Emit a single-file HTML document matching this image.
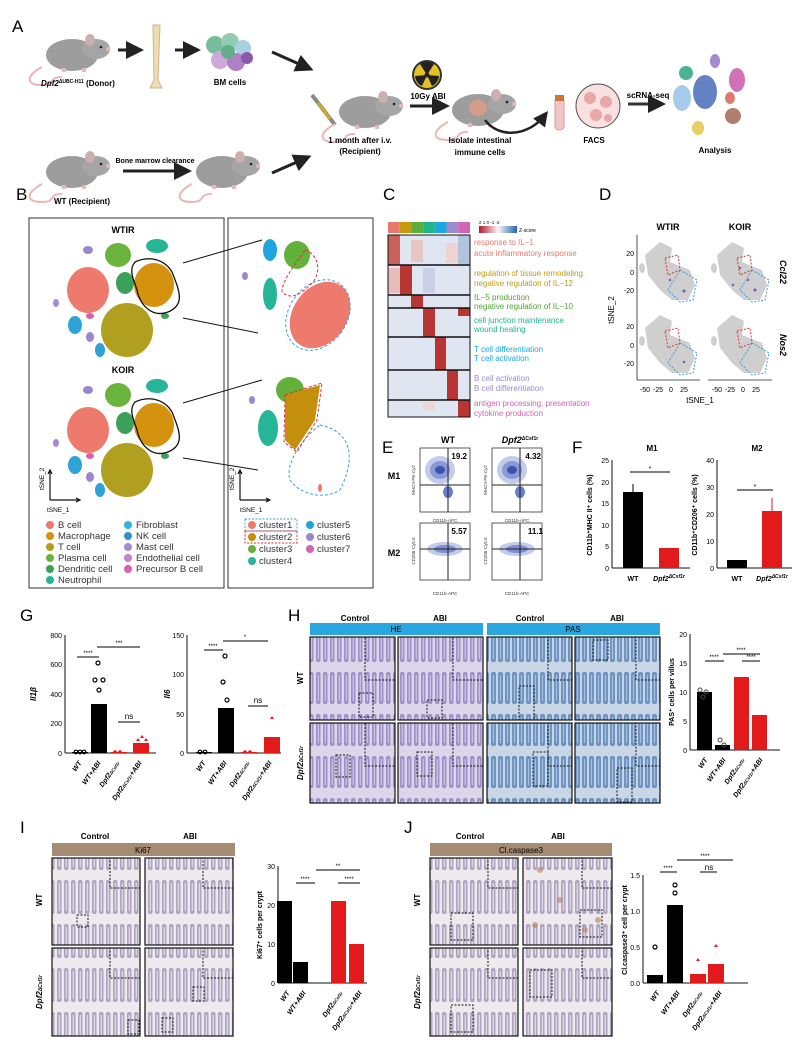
<!DOCTYPE html>
<html><head><meta charset="utf-8"><style>
html,body{margin:0;padding:0;background:#fff;}
svg{display:block;font-family:"Liberation Sans",Arial,sans-serif;}
.b{font-weight:bold;}
</style></head><body>
<svg width="800" height="1047" viewBox="0 0 800 1047" xmlns="http://www.w3.org/2000/svg">
<defs>
 <g id="mouse">
  <path d="M-30,12 C-45,20 -48,30 -30,30 C-15,30 -25,22 -10,22" fill="none" stroke="#e8b7b7" stroke-width="2"/>
  <ellipse cx="0" cy="0" rx="26" ry="16" fill="#9d9d9d"/>
  <ellipse cx="24" cy="-6" rx="14" ry="10" fill="#a5a5a5"/>
  <ellipse cx="18" cy="-15" rx="5" ry="6" fill="#c9b1b1"/>
  <circle cx="36" cy="-6" r="2" fill="#e8b7b7"/>
  <circle cx="29" cy="-8" r="1.3" fill="#222"/>
  <rect x="-10" y="13" width="4" height="4" fill="#e8b7b7"/>
  <rect x="10" y="13" width="4" height="4" fill="#e8b7b7"/>
 </g>
 <marker id="ar" markerWidth="6" markerHeight="6" refX="4" refY="3" orient="auto"><path d="M0,0 L6,3 L0,6z" fill="#222"/></marker>
 <pattern id="he" width="7" height="42" patternUnits="userSpaceOnUse">
  <rect width="7" height="42" fill="#ddd6ea"/>
  <rect x="1" y="0" width="4.5" height="32" rx="2" fill="#9e90c8"/>
  <rect x="2.7" y="3" width="1.2" height="26" fill="#cfc6e3"/>
 </pattern>
 <pattern id="pas" width="7" height="42" patternUnits="userSpaceOnUse">
  <rect width="7" height="42" fill="#c9d6e6"/>
  <rect x="1" y="0" width="5" height="32" rx="2" fill="#6c93c4"/>
  <rect x="2.9" y="3" width="1.2" height="26" fill="#a9c0dc"/>
 </pattern>
 <pattern id="ki" width="7" height="44" patternUnits="userSpaceOnUse">
  <rect width="7" height="44" fill="#ede9ec"/>
  <rect x="1" y="0" width="4.5" height="34" rx="2" fill="#aea5c2"/>
  <rect x="2.7" y="3" width="1.2" height="28" fill="#e3dee7"/>
 </pattern>
</defs>

<!-- ===== A ===== -->
<text x="12" y="32" font-size="17">A</text>
<use href="#mouse" x="72" y="55"/>
<text x="78" y="86" font-size="8" class="b" text-anchor="middle"><tspan font-style="italic">Dpf2</tspan><tspan font-size="5" dy="-3">ΔUBC-H11</tspan><tspan dy="3"> (Donor)</tspan></text>
<line x1="118" y1="50" x2="138" y2="50" stroke="#222" stroke-width="3" marker-end="url(#ar)"/>
<path d="M153,25 L160,25 L158,80 L162,88 L150,88 L154,80z" fill="#efdcb3" stroke="#cdb688"/>
<line x1="175" y1="50" x2="195" y2="50" stroke="#222" stroke-width="3" marker-end="url(#ar)"/>
<g opacity="0.85">
 <circle cx="215" cy="45" r="9" fill="#5fb38a"/><circle cx="230" cy="42" r="9" fill="#7ec4a5"/><circle cx="243" cy="48" r="8" fill="#9bc7de"/>
 <circle cx="220" cy="60" r="9" fill="#c59bd3"/><circle cx="236" cy="62" r="9" fill="#a16bbd"/><circle cx="247" cy="58" r="6" fill="#7b3c9b"/>
 <circle cx="228" cy="52" r="7" fill="#4b9e74"/>
</g>
<text x="230" y="85" font-size="8" class="b" text-anchor="middle">BM cells</text>
<line x1="272" y1="52" x2="308" y2="68" stroke="#222" stroke-width="3" marker-end="url(#ar)"/>
<line x1="312" y1="95" x2="335" y2="125" stroke="#888" stroke-width="4"/>
<line x1="318" y1="103" x2="330" y2="119" stroke="#d6a52a" stroke-width="3"/>
<use href="#mouse" x="365" y="112"/>
<text x="360" y="143" font-size="8" class="b" text-anchor="middle">1 month after i.v.</text>
<text x="360" y="154" font-size="8" class="b" text-anchor="middle">(Recipient)</text>
<circle cx="427" cy="75" r="15" fill="#333"/><circle cx="427" cy="75" r="13" fill="#e4c227"/>
<path d="M427,75 L420,64 A12,12 0 0 1 434,64z M427,75 L439,76 A12,12 0 0 1 432,86z M427,75 L422,86 A12,12 0 0 1 415,76z" fill="#222"/>
<circle cx="427" cy="75" r="2.5" fill="#222"/>
<text x="428" y="99" font-size="8" class="b" text-anchor="middle">10Gy ABI</text>
<line x1="410" y1="106" x2="444" y2="106" stroke="#222" stroke-width="3" marker-end="url(#ar)"/>
<use href="#mouse" x="478" y="110"/>
<ellipse cx="478" cy="108" rx="9" ry="8" fill="#d69c8a"/>
<path d="M485,120 C500,140 530,135 545,115" fill="none" stroke="#222" stroke-width="2.5" marker-end="url(#ar)"/>
<text x="480" y="143" font-size="8" class="b" text-anchor="middle">Isolate intestinal</text>
<text x="480" y="155" font-size="8" class="b" text-anchor="middle">immune cells</text>
<rect x="555" y="97" width="9" height="33" rx="4" fill="#f2c6c6" stroke="#d99"/>
<rect x="555" y="95" width="9" height="6" fill="#d07530"/>
<circle cx="598" cy="106" r="22" fill="#f8e0e0" stroke="#555"/>
<circle cx="590" cy="98" r="6" fill="#eaa7a7"/><circle cx="606" cy="102" r="6" fill="#eaa7a7"/><circle cx="596" cy="115" r="6" fill="#eaa7a7"/><circle cx="608" cy="118" r="4" fill="#eaa7a7"/>
<text x="594" y="143" font-size="8" class="b" text-anchor="middle">FACS</text>
<text x="648" y="98" font-size="8" class="b" text-anchor="middle">scRNA-seq</text>
<line x1="628" y1="104" x2="660" y2="104" stroke="#333" stroke-width="3" marker-end="url(#ar)"/>
<g opacity="0.8">
 <ellipse cx="686" cy="73" rx="7" ry="7" fill="#1f9f78"/>
 <ellipse cx="715" cy="61" rx="5" ry="7" fill="#8b6fc4"/>
 <ellipse cx="705" cy="92" rx="12" ry="17" fill="#3d63b5"/>
 <ellipse cx="682" cy="98" rx="9" ry="13" fill="#8fbde6"/>
 <ellipse cx="737" cy="80" rx="8" ry="12" fill="#c44fa5"/>
 <ellipse cx="730" cy="98" rx="5" ry="6" fill="#d5584b"/>
 <ellipse cx="733" cy="116" rx="8" ry="8" fill="#9c5e4a"/>
 <ellipse cx="698" cy="128" rx="6" ry="7" fill="#e2c33a"/>
</g>
<text x="715" y="153" font-size="8" class="b" text-anchor="middle">Analysis</text>
<use href="#mouse" x="72" y="172"/>
<text x="155" y="163" font-size="7" class="b" text-anchor="middle">Bone marrow clearance</text>
<line x1="123" y1="171" x2="186" y2="171" stroke="#222" stroke-width="3" marker-end="url(#ar)"/>
<use href="#mouse" x="222" y="172"/>
<text x="82" y="204" font-size="8" class="b" text-anchor="middle">WT (Recipient)</text>
<line x1="272" y1="173" x2="306" y2="158" stroke="#222" stroke-width="3" marker-end="url(#ar)"/>

<!-- ===== B ===== -->
<text x="16" y="200" font-size="17">B</text>
<rect x="29" y="218" width="195" height="370" fill="none" stroke="#333"/>
<rect x="228" y="218" width="145" height="370" fill="none" stroke="#333"/>
<text x="123" y="233" font-size="9" class="b" text-anchor="middle">WTIR</text>
<text x="123" y="373" font-size="9" class="b" text-anchor="middle">KOIR</text>
<g id="tsne1">
 <ellipse cx="88" cy="290" rx="21" ry="23" fill="#ee7a6e"/>
 <ellipse cx="118" cy="255" rx="13" ry="12" fill="#6ab43e"/>
 <ellipse cx="125" cy="283" rx="9" ry="11" fill="#3aa05a"/>
 <ellipse cx="154" cy="285" rx="20" ry="22" fill="#d4920e"/>
 <ellipse cx="127" cy="330" rx="26" ry="27" fill="#b1a020"/>
 <ellipse cx="157" cy="246" rx="11" ry="7" fill="#27b597"/>
 <ellipse cx="75" cy="325" rx="7" ry="9" fill="#2fa3d6"/>
 <ellipse cx="100" cy="350" rx="5" ry="7" fill="#2fa3d6"/>
 <ellipse cx="88" cy="250" rx="5" ry="4" fill="#9b86cf"/>
 <ellipse cx="90" cy="337" rx="4" ry="5" fill="#9b86cf"/>
 <ellipse cx="56" cy="303" rx="3" ry="4" fill="#a58bd2"/>
 <ellipse cx="90" cy="316" rx="4" ry="3" fill="#db5fae"/>
 <ellipse cx="165" cy="316" rx="4" ry="3" fill="#3aa05a"/>
</g>
<path d="M135,262 C150,255 165,260 172,272 C180,292 185,305 168,312 C152,318 140,305 137,290 C134,280 128,270 135,262z" fill="none" stroke="#111" stroke-width="1.3"/>
<use href="#tsne1" y="140"/>
<path d="M135,402 C150,395 165,400 172,412 C180,432 185,445 168,452 C152,458 140,445 137,430 C134,420 128,410 135,402z" fill="none" stroke="#111" stroke-width="1.3"/>
<line x1="183" y1="263" x2="262" y2="240" stroke="#111"/>
<line x1="183" y1="318" x2="258" y2="333" stroke="#111"/>
<line x1="183" y1="403" x2="262" y2="380" stroke="#111"/>
<line x1="183" y1="458" x2="258" y2="470" stroke="#111"/>
<ellipse cx="270" cy="250" rx="7" ry="11" fill="#1ea5dc"/>
<ellipse cx="297" cy="255" rx="13" ry="14" fill="#63b13b"/>
<ellipse cx="270" cy="294" rx="7" ry="16" fill="#27b597"/>
<ellipse cx="320" cy="315" rx="27" ry="36" transform="rotate(35 320 315)" fill="#ee7a6e"/>
<ellipse cx="318" cy="315" rx="29" ry="38" transform="rotate(35 318 315)" fill="none" stroke="#3aa0d8" stroke-dasharray="3,2"/>
<path d="M305,250 C320,255 322,275 310,285 C300,295 290,300 282,292 C282,280 295,265 305,250z" fill="none" stroke="#e03030" stroke-dasharray="3,2"/>
<ellipse cx="245" cy="276" rx="3" ry="4" fill="#9b86cf"/>
<ellipse cx="290" cy="390" rx="14" ry="13" fill="#63b13b"/>
<ellipse cx="268" cy="428" rx="10" ry="18" fill="#27b597"/>
<path d="M285,395 L320,385 L315,420 L295,450 L285,440z" fill="#c48f0c"/>
<path d="M285,395 L322,383 L317,420 L297,452 L284,442z" fill="none" stroke="#e03030" stroke-dasharray="3,2"/>
<path d="M320,425 C345,430 360,450 340,490 C325,500 300,495 290,480 C285,465 300,440 320,425z" fill="none" stroke="#3aa0d8" stroke-dasharray="3,2"/>
<ellipse cx="252" cy="400" rx="3" ry="4" fill="#9b86cf"/>
<ellipse cx="320" cy="488" rx="2" ry="4" fill="#ee7a6e"/>
<g stroke="#111" stroke-width="1.2" fill="none">
 <path d="M50,500 L50,470 M48,474 L50,470 L52,474 M50,500 L80,500 M76,498 L80,500 L76,502"/>
 <path d="M240,500 L240,470 M238,474 L240,470 L242,474 M240,500 L270,500 M266,498 L270,500 L266,502"/>
</g>
<g font-size="6.5">
 <text x="44" y="490" transform="rotate(-90 44 490)">tSNE_2</text><text x="47" y="512">tSNE_1</text>
 <text x="234" y="490" transform="rotate(-90 234 490)">tSNE_2</text><text x="240" y="512">tSNE_1</text>
</g>
<g font-size="9.5" fill="#333">
 <circle cx="50" cy="525" r="4" fill="#ee7a6e"/><text x="58" y="528">B cell</text>
 <circle cx="50" cy="536" r="4" fill="#d4920e"/><text x="58" y="539">Macrophage</text>
 <circle cx="50" cy="547" r="4" fill="#b1a020"/><text x="58" y="550">T cell</text>
 <circle cx="50" cy="558" r="4" fill="#6ab43e"/><text x="58" y="561">Plasma cell</text>
 <circle cx="50" cy="569" r="4" fill="#3aa05a"/><text x="58" y="572">Dendritic cell</text>
 <circle cx="50" cy="580" r="4" fill="#27b597"/><text x="58" y="583">Neutrophil</text>
 <circle cx="128" cy="525" r="4" fill="#2fb5dc"/><text x="136" y="528">Fibroblast</text>
 <circle cx="128" cy="536" r="4" fill="#2f8fd4"/><text x="136" y="539">NK cell</text>
 <circle cx="128" cy="547" r="4" fill="#a58bd2"/><text x="136" y="550">Mast cell</text>
 <circle cx="128" cy="558" r="4" fill="#c77fcf"/><text x="136" y="561">Endothelial cell</text>
 <circle cx="128" cy="569" r="4" fill="#db5fae"/><text x="136" y="572">Precursor B cell</text>
 <rect x="245" y="519" width="52" height="12" fill="none" stroke="#3aa0d8" stroke-dasharray="2,1.5"/>
 <rect x="245" y="531" width="52" height="12" fill="none" stroke="#e03030" stroke-dasharray="2,1.5"/>
 <circle cx="252" cy="525" r="4" fill="#ee7a6e"/><text x="259" y="528">cluster1</text>
 <circle cx="252" cy="537" r="4" fill="#c48f0c"/><text x="259" y="540">cluster2</text>
 <circle cx="252" cy="549" r="4" fill="#63b13b"/><text x="259" y="552">cluster3</text>
 <circle cx="252" cy="561" r="4" fill="#27b597"/><text x="259" y="564">cluster4</text>
 <circle cx="310" cy="525" r="4" fill="#1ea5dc"/><text x="317" y="528">cluster5</text>
 <circle cx="310" cy="537" r="4" fill="#9b86cf"/><text x="317" y="540">cluster6</text>
 <circle cx="310" cy="549" r="4" fill="#d462b5"/><text x="317" y="552">cluster7</text>
</g>

<!-- ===== C ===== -->
<text x="383" y="200" font-size="17">C</text>
<g>
 <rect x="388" y="222" width="11.7" height="11" fill="#e8776f"/>
 <rect x="399.7" y="222" width="11.7" height="11" fill="#c49a0a"/>
 <rect x="411.4" y="222" width="11.7" height="11" fill="#5cad3b"/>
 <rect x="423.1" y="222" width="11.7" height="11" fill="#1fb58c"/>
 <rect x="434.8" y="222" width="11.7" height="11" fill="#1aa8dd"/>
 <rect x="446.5" y="222" width="11.7" height="11" fill="#9c8bd0"/>
 <rect x="458.2" y="222" width="11.8" height="11" fill="#d462b5"/>
</g>
<linearGradient id="zs" x1="0" x2="1"><stop offset="0" stop-color="#b2182b"/><stop offset="0.5" stop-color="#f7f7f7"/><stop offset="1" stop-color="#2166ac"/></linearGradient>
<rect x="479" y="226" width="38" height="7" fill="url(#zs)"/>
<text x="479" y="224" font-size="4.5">2  1  0  -1 -2</text>
<text x="519" y="232" font-size="5">Z-score</text>
<rect x="388" y="235" width="82" height="182" fill="#dfe5f1"/>
<g opacity="0.9">
 <rect x="388" y="235" width="12" height="30" fill="#c8544a"/>
 <rect x="411" y="240" width="12" height="22" fill="#e9c3c0"/>
 <rect x="446" y="243" width="12" height="20" fill="#efd2cf"/>
 <rect x="458" y="235" width="12" height="30" fill="#aec0df"/>
 <rect x="400" y="265" width="12" height="30" fill="#b3221f"/>
 <rect x="388" y="268" width="12" height="25" fill="#e7b9b5"/>
 <rect x="423" y="268" width="12" height="25" fill="#c6cfe6"/>
 <rect x="411" y="295" width="12" height="13" fill="#b3221f"/>
 <rect x="423" y="308" width="12" height="29" fill="#b3221f"/>
 <rect x="458" y="308" width="12" height="8" fill="#b3221f"/>
 <rect x="435" y="337" width="11" height="33" fill="#b3221f"/>
 <rect x="447" y="370" width="11" height="30" fill="#b3221f"/>
 <rect x="458" y="400" width="12" height="17" fill="#b3221f"/>
 <rect x="423" y="402" width="12" height="8" fill="#f0d5d2"/>
</g>
<g stroke="#111" stroke-width="1.6">
 <line x1="388" y1="265" x2="470" y2="265"/><line x1="388" y1="295" x2="470" y2="295"/>
 <line x1="388" y1="308" x2="470" y2="308"/><line x1="388" y1="337" x2="470" y2="337"/>
 <line x1="388" y1="370" x2="470" y2="370"/><line x1="388" y1="400" x2="470" y2="400"/>
</g>
<rect x="388" y="235" width="82" height="182" fill="none" stroke="#111"/>
<g font-size="8">
 <text x="474" y="245" fill="#e8766d">response to IL−1</text>
 <text x="474" y="256" fill="#e8766d">acute inflammatory response</text>
 <text x="474" y="276" fill="#c09a10">regulation of tissue remodeling</text>
 <text x="474" y="286" fill="#c09a10">negative regulation of IL−12</text>
 <text x="474" y="300" fill="#4fa632">IL−5 production</text>
 <text x="474" y="309" fill="#4fa632">negative regulation of IL−10</text>
 <text x="474" y="323" fill="#1fb58c">cell junction maintenance</text>
 <text x="474" y="332" fill="#1fb58c">wound healing</text>
 <text x="474" y="352" fill="#1aa8dd">T cell differentiation</text>
 <text x="474" y="361" fill="#1aa8dd">T cell activation</text>
 <text x="474" y="381" fill="#9c8bd0">B cell activation</text>
 <text x="474" y="391" fill="#9c8bd0">B cell differentiation</text>
 <text x="474" y="406" fill="#d462b5">antigen processing, presentation</text>
 <text x="474" y="416" fill="#d462b5">cytokine production</text>
</g>

<!-- ===== D ===== -->
<text x="599" y="200" font-size="17">D</text>
<text x="668" y="230" font-size="9" class="b" text-anchor="middle">WTIR</text>
<text x="740" y="230" font-size="9" class="b" text-anchor="middle">KOIR</text>
<g id="dpan">
 <path d="M645,255 L660,242 L672,248 L670,262 L690,270 L695,285 L688,300 L672,300 L660,290 L648,275z" fill="#cfcfcf"/>
 <ellipse cx="642" cy="268" rx="3" ry="5" fill="#cfcfcf"/>
 <path d="M665,258 L678,255 L680,270 L668,275z" fill="none" stroke="#d33" stroke-dasharray="2,1.5"/>
 <path d="M680,270 L697,280 L693,300 L680,302 L668,290z" fill="none" stroke="#3aa0d8" stroke-dasharray="2,1.5"/>
</g>
<use href="#dpan" x="72"/>
<use href="#dpan" y="73"/>
<use href="#dpan" x="72" y="73"/>
<g fill="#6a5cc0"><circle cx="670" cy="280" r="1.2"/><circle cx="684" cy="291" r="1.5"/><circle cx="740" cy="268" r="1.2"/><circle cx="748" cy="280" r="1.2"/><circle cx="755" cy="290" r="1.5"/><circle cx="733" cy="285" r="1.2"/><circle cx="684" cy="362" r="1.2"/></g>
<g stroke="#222" stroke-width="0.8">
 <line x1="637" y1="235" x2="637" y2="308"/><line x1="637" y1="308" x2="637" y2="380"/>
 <line x1="637" y1="380" x2="700" y2="380"/><line x1="708" y1="380" x2="772" y2="380"/>
</g>
<g font-size="7" text-anchor="end"><text x="634" y="256">20</text><text x="634" y="275">0</text><text x="634" y="293">-20</text>
<text x="634" y="329">20</text><text x="634" y="348">0</text><text x="634" y="366">-20</text></g>
<g font-size="7" text-anchor="middle"><text x="645" y="392">-50</text><text x="658" y="392">-25</text><text x="671" y="392">0</text><text x="684" y="392">25</text>
<text x="717" y="392">-50</text><text x="730" y="392">-25</text><text x="743" y="392">0</text><text x="756" y="392">25</text></g>
<text x="700" y="403" font-size="8" text-anchor="middle">tSNE_1</text>
<text x="614" y="310" font-size="8" text-anchor="middle" transform="rotate(-90 614 310)">tSNE_2</text>
<text x="780" y="272" font-size="9" class="b" font-style="italic" text-anchor="middle" transform="rotate(90 780 272)">Ccl22</text>
<text x="780" y="345" font-size="9" class="b" font-style="italic" text-anchor="middle" transform="rotate(90 780 345)">Nos2</text>

<!-- ===== E ===== -->
<text x="382" y="453" font-size="17">E</text>
<text x="448" y="443" font-size="9" class="b" text-anchor="middle">WT</text>
<text x="520" y="443" font-size="9" class="b" text-anchor="middle"><tspan font-style="italic">Dpf2</tspan><tspan font-size="5" dy="-3">ΔCsf1r</tspan></text>
<text x="394" y="479" font-size="9" class="b" text-anchor="middle">M1</text>
<text x="394" y="556" font-size="9" class="b" text-anchor="middle">M2</text>
<g id="fl">
 <rect x="420" y="448" width="50" height="64" fill="#fff" stroke="#333" stroke-width="0.8"/>
 <ellipse cx="440" cy="470" rx="15" ry="14" fill="#c3cbea"/>
 <ellipse cx="440" cy="470" rx="10" ry="9" fill="#8a9ad6"/>
 <ellipse cx="440" cy="470" rx="5" ry="4" fill="#3e52b0"/>
 <ellipse cx="448" cy="492" rx="5" ry="6" fill="#6a7cc8"/>
 <line x1="420" y1="485" x2="470" y2="485" stroke="#222"/>
 <line x1="448" y1="448" x2="448" y2="512" stroke="#222"/>
</g>
<text x="467" y="459" font-size="8" class="b" text-anchor="end">19.2</text>
<use href="#fl" x="72"/>
<text x="541" y="459" font-size="8" class="b" text-anchor="end">4.32</text>
<g id="fl2">
 <rect x="420" y="523" width="50" height="57" fill="#fff" stroke="#333" stroke-width="0.8"/>
 <ellipse cx="445" cy="549" rx="18" ry="7" fill="#c3cbea"/>
 <ellipse cx="445" cy="549" rx="11" ry="4" fill="#7e8fd2"/>
 <line x1="420" y1="549" x2="470" y2="549" stroke="#222"/>
 <line x1="448" y1="523" x2="448" y2="580" stroke="#222"/>
</g>
<text x="467" y="534" font-size="8" class="b" text-anchor="end">5.57</text>
<use href="#fl2" x="72"/>
<text x="543" y="534" font-size="8" class="b" text-anchor="end">11.1</text>
<g font-size="4.5" fill="#333" text-anchor="middle">
 <text x="445" y="522">CD11b-APC</text><text x="517" y="522">CD11b-APC</text>
 <text x="445" y="595">CD11b-APC</text><text x="517" y="595">CD11b-APC</text>
 <text x="415" y="480" transform="rotate(-90 415 480)">MHCII-PE-Cy7</text><text x="487" y="480" transform="rotate(-90 487 480)">MHCII-PE-Cy7</text>
 <text x="415" y="551" transform="rotate(-90 415 551)">CD206-Cy5.5</text><text x="487" y="551" transform="rotate(-90 487 551)">CD206-Cy5.5</text>
</g>

<!-- ===== F ===== -->
<text x="572" y="453" font-size="17">F</text>
<text x="652" y="451" font-size="8" class="b" text-anchor="middle">M1</text>
<text x="757" y="451" font-size="8" class="b" text-anchor="middle">M2</text>
<g stroke="#111" stroke-width="1">
 <line x1="612" y1="460" x2="612" y2="568"/><line x1="612" y1="568" x2="690" y2="568"/>
 <line x1="717" y1="460" x2="717" y2="568"/><line x1="717" y1="568" x2="792" y2="568"/>
</g>
<g font-size="7" text-anchor="end">
 <text x="609" y="463">25</text><text x="609" y="485">20</text><text x="609" y="506">15</text><text x="609" y="528">10</text><text x="609" y="549">5</text><text x="609" y="571">0</text>
 <text x="714" y="463">40</text><text x="714" y="490">30</text><text x="714" y="517">20</text><text x="714" y="544">10</text><text x="714" y="571">0</text>
</g>
<rect x="623" y="492" width="20" height="76" fill="#000"/>
<rect x="659" y="548" width="20" height="20" fill="#e31a1c"/>
<rect x="727" y="560" width="20" height="8" fill="#000"/>
<rect x="762" y="511" width="20" height="57" fill="#e31a1c"/>
<line x1="633" y1="484" x2="633" y2="492" stroke="#000"/><line x1="772" y1="498" x2="772" y2="511" stroke="#e31a1c"/>
<line x1="630" y1="472" x2="670" y2="472" stroke="#000"/><text x="650" y="471" font-size="7" text-anchor="middle">*</text>
<line x1="737" y1="490" x2="773" y2="490" stroke="#000"/><text x="755" y="489" font-size="7" text-anchor="middle">*</text>
<g font-size="7" class="b" text-anchor="middle">
 <text x="633" y="581">WT</text><text x="669" y="581" font-style="italic">Dpf2<tspan font-size="5" dy="-3">ΔCsf1r</tspan></text>
 <text x="737" y="581">WT</text><text x="772" y="581" font-style="italic">Dpf2<tspan font-size="5" dy="-3">ΔCsf1r</tspan></text>
 <text x="592" y="515" transform="rotate(-90 592 515)">CD11b⁺MHC II⁺ cells (%)</text>
 <text x="697" y="515" transform="rotate(-90 697 515)">CD11b⁺CD206⁺ cells (%)</text>
</g>

<!-- ===== G ===== -->
<text x="20" y="621" font-size="17">G</text>
<g stroke="#111" stroke-width="1">
 <line x1="65" y1="635" x2="65" y2="753"/><line x1="65" y1="753" x2="156" y2="753"/>
 <line x1="187" y1="635" x2="187" y2="753"/><line x1="187" y1="753" x2="281" y2="753"/>
</g>
<g font-size="7" text-anchor="end">
 <text x="62" y="638">800</text><text x="62" y="667">600</text><text x="62" y="697">400</text><text x="62" y="726">200</text><text x="62" y="756">0</text>
 <text x="184" y="638">150</text><text x="184" y="677">100</text><text x="184" y="717">50</text><text x="184" y="756">0</text>
</g>
<text x="36" y="694" font-size="8" class="b" font-style="italic" text-anchor="middle" transform="rotate(-90 36 694)">Il1β</text>
<text x="170" y="694" font-size="8" class="b" font-style="italic" text-anchor="middle" transform="rotate(-90 170 694)">Il6</text>
<rect x="72" y="752" width="16" height="1" fill="#000"/>
<rect x="91" y="704" width="16" height="49" fill="#000"/>
<rect x="111" y="752" width="16" height="1" fill="#e31a1c"/>
<rect x="133" y="743" width="16" height="10" fill="#e31a1c"/>
<rect x="196" y="752" width="16" height="1" fill="#000"/>
<rect x="218" y="708" width="16" height="45" fill="#000"/>
<rect x="241" y="752" width="16" height="1" fill="#e31a1c"/>
<rect x="264" y="737" width="16" height="16" fill="#e31a1c"/>
<g fill="none" stroke="#000" stroke-width="1.2">
 <circle cx="98" cy="663" r="2"/><circle cx="95" cy="680" r="2"/><circle cx="103" cy="680" r="2"/><circle cx="99" cy="690" r="2"/><circle cx="225" cy="656" r="2"/><circle cx="223" cy="682" r="2"/><circle cx="227" cy="700" r="2"/>
 <circle cx="76" cy="752" r="1.8"/><circle cx="80" cy="752" r="1.8"/><circle cx="84" cy="752" r="1.8"/><circle cx="200" cy="752" r="1.8"/><circle cx="205" cy="752" r="1.8"/>
</g>
<g fill="#e31a1c"><path d="M270,719 l2,-3 l2,3z M140,738 l2,-3 l2,3z M136,741 l2,-3 l2,3z M144,741 l2,-3 l2,3z"/><circle cx="115" cy="752" r="1.8"/><circle cx="120" cy="752" r="1.8"/><circle cx="245" cy="752" r="1.8"/><circle cx="250" cy="752" r="1.8"/></g>
<g stroke="#000"><line x1="77" y1="657" x2="99" y2="657"/><line x1="97" y1="647" x2="140" y2="647"/><line x1="118" y1="722" x2="140" y2="722"/>
<line x1="204" y1="650" x2="223" y2="650"/><line x1="223" y1="641" x2="268" y2="641"/><line x1="248" y1="706" x2="268" y2="706"/></g>
<g font-size="6" text-anchor="middle"><text x="88" y="655">****</text><text x="119" y="645">***</text><text x="129" y="719" font-size="8">ns</text>
<text x="213" y="648">****</text><text x="245" y="639">*</text><text x="258" y="703" font-size="8">ns</text></g>
<g font-size="7" class="b" font-style="italic" text-anchor="end">
 <text x="82" y="763" transform="rotate(-55 82 763)">WT</text><text x="101" y="763" transform="rotate(-55 101 763)">WT+ABI</text><text x="120" y="763" transform="rotate(-55 120 763)">Dpf2<tspan font-size="4.5">ΔCsf1r</tspan></text><text x="142" y="763" transform="rotate(-55 142 763)">Dpf2<tspan font-size="4.5">ΔCsf1r</tspan>+ABI</text>
 <text x="206" y="763" transform="rotate(-55 206 763)">WT</text><text x="227" y="763" transform="rotate(-55 227 763)">WT+ABI</text><text x="250" y="763" transform="rotate(-55 250 763)">Dpf2<tspan font-size="4.5">ΔCsf1r</tspan></text><text x="272" y="763" transform="rotate(-55 272 763)">Dpf2<tspan font-size="4.5">ΔCsf1r</tspan>+ABI</text>
</g>

<!-- ===== H ===== -->
<text x="288" y="621" font-size="17">H</text>
<g font-size="8" class="b" text-anchor="middle"><text x="355" y="621">Control</text><text x="440" y="621">ABI</text><text x="530" y="621">Control</text><text x="617" y="621">ABI</text></g>
<rect x="310" y="623" width="173" height="12" fill="#2aa7e0"/><text x="396" y="632" font-size="8" text-anchor="middle">HE</text>
<rect x="487" y="623" width="173" height="12" fill="#2aa7e0"/><text x="573" y="632" font-size="8" text-anchor="middle">PAS</text>
<g stroke="#111" stroke-width="1.2">
 <rect x="310" y="637" width="85" height="83" fill="url(#he)"/><rect x="398" y="637" width="85" height="83" fill="url(#he)"/>
 <rect x="487" y="637" width="85" height="83" fill="url(#pas)"/><rect x="575" y="637" width="85" height="83" fill="url(#pas)"/>
 <rect x="310" y="723" width="85" height="80" fill="url(#he)"/><rect x="398" y="723" width="85" height="80" fill="url(#he)"/>
 <rect x="487" y="723" width="85" height="80" fill="url(#pas)"/><rect x="575" y="723" width="85" height="80" fill="url(#pas)"/>
</g>
<g fill="none" stroke="#111" stroke-dasharray="2,1.5">
 <rect x="365" y="637" width="30" height="43"/><rect x="359" y="693" width="14" height="24"/>
 <rect x="453" y="637" width="30" height="43"/><rect x="427" y="700" width="15" height="18"/>
 <rect x="548" y="637" width="24" height="43"/><rect x="519" y="686" width="15" height="34"/>
 <rect x="636" y="637" width="24" height="43"/><rect x="593" y="640" width="15" height="20"/>
 <rect x="365" y="723" width="30" height="43"/><rect x="336" y="755" width="14" height="22"/>
 <rect x="453" y="723" width="30" height="43"/><rect x="417" y="752" width="15" height="24"/>
 <rect x="548" y="723" width="24" height="43"/><rect x="533" y="752" width="15" height="34"/>
 <rect x="636" y="723" width="24" height="43"/><rect x="617" y="768" width="15" height="34"/>
</g>
<text x="303" y="678" font-size="8" class="b" text-anchor="middle" transform="rotate(-90 303 678)">WT</text>
<text x="303" y="763" font-size="8" class="b" font-style="italic" text-anchor="middle" transform="rotate(-90 303 763)">Dpf2<tspan font-size="5">ΔCsf1r</tspan></text>
<g stroke="#111"><line x1="690" y1="634" x2="690" y2="750"/><line x1="690" y1="750" x2="780" y2="750"/></g>
<g font-size="7" text-anchor="end"><text x="687" y="637">20</text><text x="687" y="666">15</text><text x="687" y="695">10</text><text x="687" y="724">5</text><text x="687" y="753">0</text></g>
<text x="674" y="692" font-size="7" class="b" text-anchor="middle" transform="rotate(-90 674 692)">PAS⁺ cells per villus</text>
<rect x="697" y="692" width="15" height="58" fill="#000"/>
<rect x="715" y="745" width="15" height="5" fill="#000"/>
<rect x="734" y="677" width="15" height="73" fill="#e31a1c"/>
<rect x="752" y="715" width="15" height="35" fill="#e31a1c"/>
<g fill="none" stroke="#444"><circle cx="700" cy="690" r="2"/><circle cx="706" cy="692" r="2"/><circle cx="703" cy="697" r="2"/><circle cx="720" cy="740" r="2"/><circle cx="724" cy="745" r="2"/></g>
<g stroke="#000"><line x1="705" y1="661" x2="724" y2="661"/><line x1="723" y1="654" x2="760" y2="654"/><line x1="742" y1="661" x2="760" y2="661"/></g>
<g font-size="6" text-anchor="middle"><text x="714" y="659">****</text><text x="741" y="652">****</text><text x="751" y="659">****</text></g>
<g font-size="7" class="b" font-style="italic" text-anchor="end">
 <text x="708" y="760" transform="rotate(-55 708 760)">WT</text><text x="726" y="760" transform="rotate(-55 726 760)">WT+ABI</text><text x="745" y="760" transform="rotate(-55 745 760)">Dpf2<tspan font-size="4.5">ΔCsf1r</tspan></text><text x="763" y="760" transform="rotate(-55 763 760)">Dpf2<tspan font-size="4.5">ΔCsf1r</tspan>+ABI</text>
</g>

<!-- ===== I ===== -->
<text x="20" y="833" font-size="17">I</text>
<g font-size="8" class="b" text-anchor="middle"><text x="95" y="839">Control</text><text x="190" y="839">ABI</text></g>
<rect x="52" y="843" width="183" height="13" fill="#a58b72"/><text x="143" y="853" font-size="8" text-anchor="middle">Ki67</text>
<g stroke="#111" stroke-width="1.2">
 <rect x="52" y="858" width="88" height="87" fill="url(#ki)"/><rect x="145" y="858" width="88" height="87" fill="url(#ki)"/>
 <rect x="52" y="948" width="88" height="88" fill="url(#ki)"/><rect x="145" y="948" width="88" height="88" fill="url(#ki)"/>
</g>
<g fill="none" stroke="#111" stroke-dasharray="2,1.5">
 <rect x="110" y="858" width="30" height="30"/><rect x="77" y="915" width="11" height="12"/>
 <rect x="203" y="858" width="30" height="30"/><rect x="193" y="987" width="11" height="14"/>
 <rect x="110" y="948" width="30" height="30"/><rect x="128" y="1020" width="11" height="14"/>
 <rect x="203" y="948" width="30" height="30"/><rect x="162" y="1018" width="11" height="14"/>
</g>
<text x="42" y="900" font-size="8" class="b" text-anchor="middle" transform="rotate(-90 42 900)">WT</text>
<text x="42" y="992" font-size="8" class="b" font-style="italic" text-anchor="middle" transform="rotate(-90 42 992)">Dpf2<tspan font-size="5">ΔCsf1r</tspan></text>
<g stroke="#111"><line x1="278" y1="866" x2="278" y2="983"/><line x1="278" y1="983" x2="367" y2="983"/></g>
<g font-size="7" text-anchor="end"><text x="275" y="869">30</text><text x="275" y="908">20</text><text x="275" y="947">10</text><text x="275" y="986">0</text></g>
<text x="262" y="925" font-size="7" class="b" text-anchor="middle" transform="rotate(-90 262 925)">Ki67⁺ cells per crypt</text>
<rect x="277" y="901" width="15" height="82" fill="#000"/>
<rect x="293" y="962" width="15" height="21" fill="#000"/>
<rect x="331" y="901" width="15" height="82" fill="#e31a1c"/>
<rect x="349" y="944" width="15" height="39" fill="#e31a1c"/>
<g stroke="#000"><line x1="296" y1="883" x2="315" y2="883"/><line x1="316" y1="870" x2="360" y2="870"/><line x1="338" y1="883" x2="360" y2="883"/></g>
<g font-size="6" text-anchor="middle"><text x="305" y="881">****</text><text x="338" y="868">**</text><text x="349" y="881">****</text></g>
<g font-size="7" class="b" font-style="italic" text-anchor="end">
 <text x="290" y="993" transform="rotate(-55 290 993)">WT</text><text x="306" y="993" transform="rotate(-55 306 993)">WT+ABI</text><text x="343" y="993" transform="rotate(-55 343 993)">Dpf2<tspan font-size="4.5">ΔCsf1r</tspan></text><text x="362" y="993" transform="rotate(-55 362 993)">Dpf2<tspan font-size="4.5">ΔCsf1r</tspan>+ABI</text>
</g>

<!-- ===== J ===== -->
<text x="404" y="833" font-size="17">J</text>
<g font-size="8" class="b" text-anchor="middle"><text x="470" y="839">Control</text><text x="558" y="839">ABI</text></g>
<rect x="430" y="843" width="182" height="13" fill="#a58b72"/><text x="521" y="853" font-size="8" text-anchor="middle">Cl.caspase3</text>
<g stroke="#111" stroke-width="1.2">
 <rect x="430" y="858" width="88" height="87" fill="url(#ki)"/><rect x="523" y="858" width="89" height="87" fill="url(#ki)"/>
 <rect x="430" y="948" width="88" height="88" fill="url(#ki)"/><rect x="523" y="948" width="89" height="88" fill="url(#ki)"/>
</g>
<g fill="#b58262" opacity="0.6"><circle cx="540" cy="870" r="3"/><circle cx="560" cy="900" r="3"/><circle cx="535" cy="925" r="3"/><circle cx="585" cy="930" r="3"/><circle cx="598" cy="920" r="3"/></g>
<g fill="none" stroke="#111" stroke-dasharray="2,1.5">
 <rect x="488" y="858" width="30" height="30"/><rect x="451" y="913" width="22" height="27"/>
 <rect x="582" y="858" width="30" height="30"/><rect x="580" y="910" width="22" height="27"/>
 <rect x="488" y="948" width="30" height="30"/><rect x="451" y="1005" width="22" height="27"/>
 <rect x="582" y="948" width="30" height="30"/><rect x="530" y="970" width="22" height="27"/>
</g>
<text x="420" y="900" font-size="8" class="b" text-anchor="middle" transform="rotate(-90 420 900)">WT</text>
<text x="420" y="992" font-size="8" class="b" font-style="italic" text-anchor="middle" transform="rotate(-90 420 992)">Dpf2<tspan font-size="5">ΔCsf1r</tspan></text>
<g stroke="#111"><line x1="643" y1="875" x2="643" y2="983"/><line x1="643" y1="983" x2="748" y2="983"/></g>
<g font-size="7" text-anchor="end"><text x="640" y="878">1.5</text><text x="640" y="914">1.0</text><text x="640" y="950">0.5</text><text x="640" y="986">0.0</text></g>
<text x="627" y="930" font-size="7" class="b" text-anchor="middle" transform="rotate(-90 627 930)">Cl.caspase3⁺ cell per crypt</text>
<rect x="647" y="975" width="16" height="8" fill="#000"/>
<rect x="667" y="905" width="16" height="78" fill="#000"/>
<rect x="690" y="974" width="16" height="9" fill="#e31a1c"/>
<rect x="708" y="964" width="16" height="19" fill="#e31a1c"/>
<g fill="none" stroke="#000" stroke-width="1.2"><circle cx="655" cy="947" r="2"/><circle cx="675" cy="885" r="2"/><circle cx="675" cy="893" r="2"/></g>
<g fill="#e31a1c"><path d="M714,947 l2,-3 l2,3z M696,961 l2,-3 l2,3z"/></g>
<g stroke="#000"><line x1="660" y1="872" x2="677" y2="872"/><line x1="677" y1="860" x2="733" y2="860"/><line x1="700" y1="872" x2="717" y2="872"/></g>
<g font-size="6" text-anchor="middle"><text x="668" y="870">****</text><text x="705" y="858">****</text><text x="709" y="870" font-size="8">ns</text></g>
<g font-size="7" class="b" font-style="italic" text-anchor="end">
 <text x="660" y="993" transform="rotate(-55 660 993)">WT</text><text x="680" y="993" transform="rotate(-55 680 993)">WT+ABI</text><text x="703" y="993" transform="rotate(-55 703 993)">Dpf2<tspan font-size="4.5">ΔCsf1r</tspan></text><text x="722" y="993" transform="rotate(-55 722 993)">Dpf2<tspan font-size="4.5">ΔCsf1r</tspan>+ABI</text>
</g>
</svg>
</body></html>
